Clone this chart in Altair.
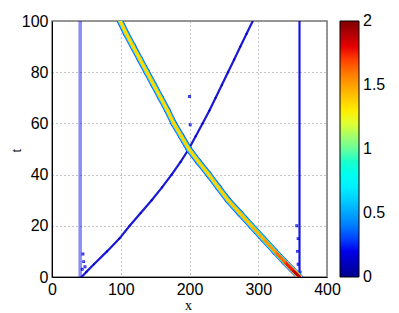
import altair as alt
import pandas as pd

# ---- data ----
# thick (high amplitude) curve: t -> x, and its centre amplitude
thick_t = [0, 3, 6, 10, 15, 20, 25, 30, 35, 40, 45, 50, 55, 60, 65, 70, 75, 80, 85, 90, 95, 100]
thick_x = [360, 349, 338, 324, 307, 290, 273, 256, 242, 228, 213, 199, 188, 177, 168, 158, 148, 138, 128, 118, 108, 99]
thick_v = [1.95, 1.8, 1.68, 1.55, 1.47, 1.42, 1.4, 1.38, 1.37, 1.37, 1.36, 1.36, 1.36, 1.36, 1.35, 1.35, 1.35, 1.35, 1.35, 1.35, 1.35, 1.35]
thick_mid_v = [1.3, 1.15, 1.0, 0.85, 0.72, 0.65, 0.6, 0.58, 0.58, 0.58, 0.58, 0.58, 0.58, 0.58, 0.58, 0.58, 0.58, 0.58, 0.58, 0.58, 0.58, 0.58]
thick_edge_v = 0.3

# thin rising curve
rise_t = [0, 2, 5, 10, 15, 20, 25, 30, 35, 40, 45, 50, 55, 60, 65, 70, 75, 80, 85, 90, 95, 100]
rise_x = [43, 50, 61, 80, 98, 113, 129, 145, 160, 174, 187, 199, 209, 219, 229, 238, 247, 256, 265, 274, 283, 292]
rise_v = 0.15

# vertical lines (x position, amplitude)
left_x, left_v = 41, 0.2
right_x, right_v = 360, 0.17
vert_t = [0, 100]

# scattered specks
speck_x = [44, 46, 48, 45, 358, 357, 358, 356, 361, 200, 201]
speck_t = [3, 6, 4, 9, 5, 10, 15, 20, 2, 70.5, 59.5]
speck_v = [0.2, 0.2, 0.2, 0.2, 0.2, 0.2, 0.2, 0.2, 0.3, 0.2, 0.2]

# colour bar (jet)
jet_domain = [0, 0.25, 0.75, 1.25, 1.75, 2]
jet_range = ["#00008f", "#0000ff", "#00ffff", "#ffff00", "#ff0000", "#800000"]
# label positions on the colour bar (ends nudged inward so labels stay centred)
cbar_ticks = [0.0005, 0.5, 1, 1.5, 1.9995]
x_ticks = [0, 100, 200, 300, 400]
y_ticks = [0, 20, 40, 60, 80, 100]


def segs(layer, xs, ts, vs):
    rows = []
    if not isinstance(vs, list):
        vs = [vs] * len(xs)
    for i in range(len(xs) - 1):
        rows.append(dict(layer=layer, x=xs[i], y=ts[i], x2=xs[i + 1], y2=ts[i + 1],
                         v=(vs[i] + vs[i + 1]) / 2))
    return rows


rows = []
rows += segs("left", [left_x, left_x], vert_t, left_v)
rows += segs("right", [right_x, right_x], vert_t, right_v)
rows += segs("rise", rise_x, rise_t, rise_v)
rows += segs("edge", thick_x, thick_t, thick_edge_v)
rows += segs("mid", thick_x, thick_t, thick_mid_v)
rows += segs("core", thick_x, thick_t, thick_v)
df = pd.DataFrame(rows)
specks = pd.DataFrame(dict(x=speck_x, y=speck_t, v=speck_v))

xscale = alt.Scale(domain=[0, 400], nice=False, zero=False)
yscale = alt.Scale(domain=[0, 100], nice=False, zero=False)
cscale = alt.Scale(domain=jet_domain, range=jet_range, clamp=True)

xaxis = alt.Axis(values=x_ticks, title="x", titleX=136, titleY=28,
                 titleBaseline="middle", titleAlign="center")
yaxis = alt.Axis(values=y_ticks, title="t", titleX=-36, titleY=129,
                 titleBaseline="middle", titleAlign="center", titleAngle=-90)
legend = alt.Legend(type="gradient", orient="none", legendX=288, legendY=0,
                    direction="vertical",
                    gradientLength=256, gradientThickness=19, gradientOpacity=1,
                    title=None,
                    values=cbar_ticks, labelOverlap=False,
                    labelExpr="format(round(datum.value * 2) / 2, '~g')",
                    gradientStrokeColor="black", gradientStrokeWidth=1,
                    labelFontSize=16, labelFont="Liberation Sans", labelColor="black",
                    labelOffset=4)

base = alt.Chart(df)


def layer(name, width, opacity=1.0):
    return base.transform_filter(alt.datum.layer == name).mark_rule(
        strokeWidth=width, strokeCap="round", opacity=opacity, clip=True
    ).encode(
        x=alt.X("x:Q", scale=xscale, axis=xaxis),
        y=alt.Y("y:Q", scale=yscale, axis=yaxis),
        x2="x2:Q", y2="y2:Q",
        color=alt.Color("v:Q", scale=cscale, legend=legend),
    )


speck_layer = alt.Chart(specks).mark_square(
    size=3, filled=False, strokeWidth=1.2, opacity=0.8, clip=True
).encode(
    x=alt.X("x:Q", scale=xscale, axis=xaxis),
    y=alt.Y("y:Q", scale=yscale, axis=yaxis),
    color=alt.Color("v:Q", scale=cscale, legend=legend),
)

chart = alt.layer(
    layer("core", 0.01),
    layer("left", 3.5, 0.45),
    layer("right", 2.2, 0.9),
    layer("rise", 2.2, 0.9),
    speck_layer,
    layer("edge", 6.4, 0.9),
    layer("mid", 5.0),
    layer("core", 3.4),
).properties(
    width=275, height=256,
    autosize=alt.AutoSizeParams(type="none"),
    padding={"left": 44, "top": 13, "right": 64, "bottom": 36},
    background="white",
).configure_view(
    stroke="#777777", strokeWidth=1.5
).configure_axis(
    labelFont="Liberation Sans", labelFontSize=16, labelColor="black",
    labelPadding=4, labelFlush=False, ticks=False, domainColor="black", domainWidth=1,
    grid=True, gridColor="#888888", gridDash=[1, 3], gridWidth=1,
    titleFont="Liberation Serif", titleFontSize=14, titleFontWeight="normal",
    titleColor="black",
)

chart.save("out.html", embed_options={"renderer": "svg", "actions": False})
